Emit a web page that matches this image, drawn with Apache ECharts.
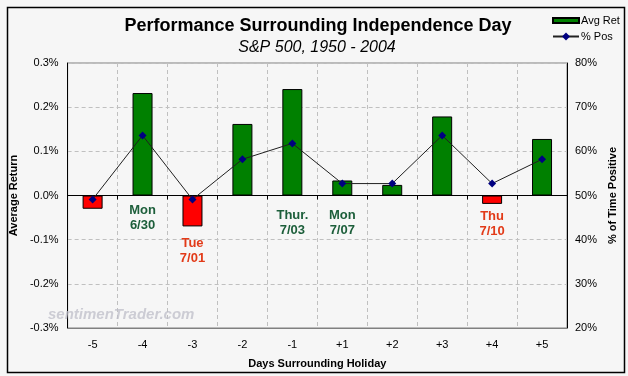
<!DOCTYPE html>
<html>
<head>
<meta charset="utf-8">
<script src="https://cdn.jsdelivr.net/npm/echarts@6/dist/echarts.min.js"></script>
<style>
html,body{margin:0;padding:0;background:#f6f6f6;}
#c{width:628px;height:376px;}
</style>
</head>
<body>
<div id="c"></div>
<script>
var categories = ['-5','-4','-3','-2','-1','+1','+2','+3','+4','+5'];
var avgRet = [-0.030, 0.232, -0.070, 0.162, 0.241, 0.034, 0.024, 0.179, -0.019, 0.128];
var pctPos = [49.1, 63.6, 49.1, 58.2, 61.8, 52.7, 52.7, 63.6, 52.7, 58.2];
var leftTicks = [-0.3, 0.3, 0.1];
var rightTicks = [20, 80, 10];
var noteCats = ['-4', '-3', '-1', '+1', '+4'];
var noteTexts = ['Mon\n6/30', 'Tue\n7/01', 'Thur.\n7/03', 'Mon\n7/07', 'Thu\n7/10'];
var noteY = [-0.051, -0.125, -0.062, -0.063, -0.064];
var noteColors = ['#1c5e3a', '#e23a18', '#1c5e3a', '#1c5e3a', '#e23a18'];

var FONT = 'Arial, "Liberation Sans", sans-serif';
var chart = echarts.init(document.getElementById('c'), null, {renderer: 'canvas'});

var barData = avgRet.map(function (v) {
  return v < 0 ? {value: v, itemStyle: {color: '#ff0000'}} : v;
});
var noteData = noteCats.map(function (c, i) {
  return {
    value: [c, noteY[i]],
    label: {formatter: noteTexts[i], color: noteColors[i]}
  };
});

var option = {
  backgroundColor: '#f6f6f6',
  animation: false,
  textStyle: {fontFamily: FONT},
  title: [{
    text: 'Performance Surrounding Independence Day',
    left: 313, top: 12, textAlign: 'center',
    textStyle: {fontSize: 18, fontWeight: 'bold', color: '#000', fontFamily: FONT}
  }, {
    text: 'S&P 500, 1950 - 2004',
    left: 312, top: 35, textAlign: 'center',
    textStyle: {fontSize: 16, fontStyle: 'italic', fontWeight: 'normal', color: '#000', fontFamily: FONT}
  }],
  legend: [{
    data: ['Avg Ret'], left: 547, top: 10, itemWidth: 26, itemHeight: 5, itemGap: 4,
    icon: 'rect',
    textStyle: {fontSize: 11, color: '#000', fontFamily: FONT, padding: [0, 0, 0, -3]}
  }, {
    data: ['% Pos'], left: 547, top: 26, itemWidth: 26, itemHeight: 10, itemGap: 4,
    textStyle: {fontSize: 11, color: '#000', fontFamily: FONT, padding: [0, 0, 0, -3]}
  }],
  grid: {left: 62, right: 61, top: 63, bottom: 48, show: true, borderColor: '#808080', borderWidth: 1, backgroundColor: 'transparent'},
  xAxis: [{
    type: 'category', data: categories, position: 'bottom',
    axisLine: {onZero: false, lineStyle: {color: '#808080', width: 1}},
    axisTick: {show: false},
    axisLabel: {color: '#000', fontSize: 11, margin: 11, fontFamily: FONT},
    splitLine: {show: true, lineStyle: {color: '#c0c0c0', type: [4, 3], width: 1}},
    name: 'Days Surrounding Holiday', nameLocation: 'middle', nameGap: 30,
    nameTextStyle: {fontSize: 11, fontWeight: 'bold', color: '#000', fontFamily: FONT}
  }, {
    type: 'category', data: categories, position: 'bottom',
    axisLine: {onZero: true, onZeroAxisIndex: 0, lineStyle: {color: '#000', width: 1}},
    axisTick: {show: true, length: 4, lineStyle: {color: '#000'}},
    axisLabel: {show: false},
    splitLine: {show: false}
  }],
  yAxis: [{
    type: 'value', min: leftTicks[0], max: leftTicks[1], interval: leftTicks[2],
    axisLine: {show: true, lineStyle: {color: '#000'}},
    axisTick: {show: false},
    axisLabel: {color: '#000', fontSize: 11, margin: 9, fontFamily: FONT,
      formatter: function (v) { return v.toFixed(1) + '%'; }},
    splitLine: {show: true, lineStyle: {color: '#c0c0c0', type: [4, 3], width: 1}},
    name: 'Average Return', nameLocation: 'middle', nameGap: 42, nameRotate: 90,
    nameTextStyle: {fontSize: 11, fontWeight: 'bold', color: '#000', fontFamily: FONT}
  }, {
    type: 'value', min: rightTicks[0], max: rightTicks[1], interval: rightTicks[2],
    position: 'right',
    axisLine: {show: true, lineStyle: {color: '#000'}},
    axisTick: {show: false},
    axisLabel: {color: '#000', fontSize: 11, margin: 8, fontFamily: FONT,
      formatter: function (v) { return v + '%'; }},
    splitLine: {show: false},
    name: '% of Time Positive', nameLocation: 'middle', nameGap: 40, nameRotate: 90,
    nameTextStyle: {fontSize: 11, fontWeight: 'bold', color: '#000', fontFamily: FONT}
  }],
  series: [{
    name: 'Avg Ret', type: 'bar', xAxisIndex: 0, yAxisIndex: 0,
    data: barData, barWidth: 20, color: '#008000',
    itemStyle: {color: '#008000', borderColor: '#000', borderWidth: 1},
    z: 2
  }, {
    name: '% Pos', type: 'line', xAxisIndex: 0, yAxisIndex: 1,
    data: pctPos, color: '#000080',
    symbol: 'diamond', symbolSize: 8,
    lineStyle: {color: '#202020', width: 1},
    itemStyle: {color: '#000080'},
    z: 3
  }, {
    name: 'notes', type: 'scatter', xAxisIndex: 0, yAxisIndex: 0,
    data: noteData, symbolSize: 0, silent: true,
    label: {show: true, position: 'inside', fontSize: 13, fontWeight: 'bold',
      lineHeight: 15, fontFamily: FONT, align: 'center', verticalAlign: 'middle',
      textBorderWidth: 0, textBorderColor: 'transparent', opacity: 1},
    z: 4
  }],
  graphic: [{
    type: 'rect', left: 5, top: 5, z: -1,
    shape: {width: 617, height: 365},
    style: {fill: null, stroke: '#000', lineWidth: 1.5}
  }, {
    type: 'text', left: 48, top: 307, z: 1,
    style: {text: 'sentimenTrader.com', fontSize: 15, fontStyle: 'italic', fontWeight: 'bold',
      fontFamily: FONT, fill: 'rgba(190,190,200,0.75)'}
  }]
};
chart.setOption(option);
</script>
</body>
</html>
